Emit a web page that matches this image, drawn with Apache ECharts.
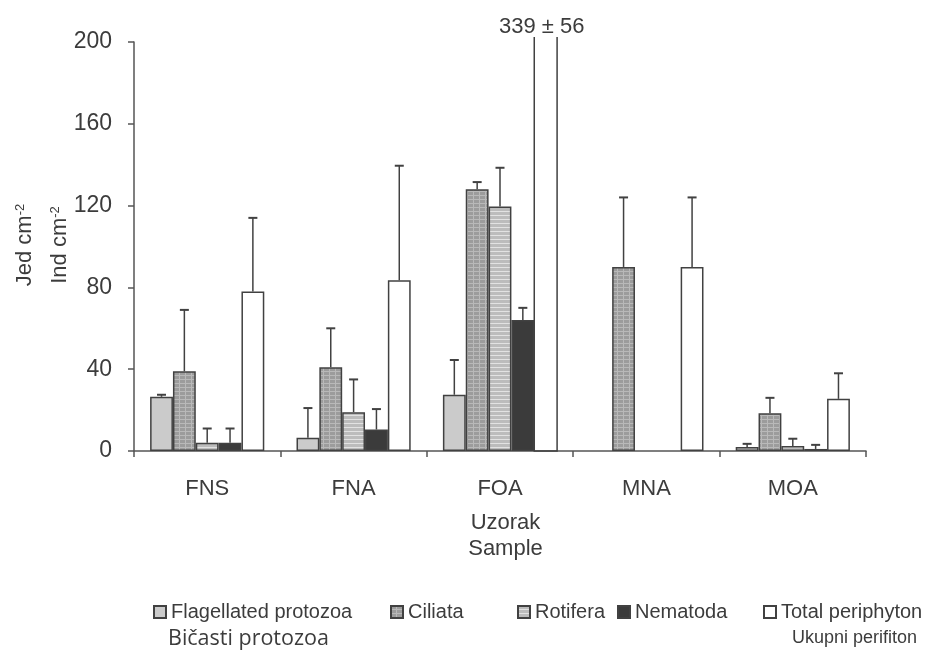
<!DOCTYPE html>
<html>
<head>
<meta charset="utf-8">
<script src="https://cdn.jsdelivr.net/npm/echarts@6/dist/echarts.min.js"></script>
<style>
html, body { margin: 0; padding: 0; background: #fff; }
#main { width: 925px; height: 651px; }
</style>
</head>
<body>
<div id="main"></div>
<script>
// samples (x axis)
var samples = ['FNS', 'FNA', 'FOA', 'MNA', 'MOA'];
var seriesNames = ['Flagellated protozoa', 'Ciliata', 'Rotifera', 'Nematoda', 'Total periphyton'];
var yTicks = [0, 40, 80, 120, 160, 200];

// mean values, Jed cm-2 (null = not found)
var flagellata = [26.5, 6.5, 27.5, null, 2];
var ciliata = [39, 41, 128, 90, 18.5];
var rotifera = [4, 19, 119.5, null, 2.5];
var nematoda = [4, 10.5, 64, null, 1];
var total = [78, 83.5, 339, 90, 25.5];

// standard deviations (upper error bars)
var flagellataErr = [1, 14.5, 17, null, 1.5];
var ciliataErr = [30, 19, 3.5, 34, 7.5];
var rotiferaErr = [7, 16, 19, null, 3.5];
var nematodaErr = [7, 10, 6, null, 2];
var totalErr = [36, 56, 56, 34, 12.5];

var yMax = yTicks[yTicks.length - 1];
var gap = 0.22;
var edge = '#414141';
var textColor = '#3c3c3c';
var sans = '"Liberation Sans", Arial, sans-serif';

// hatch patterns
function makePattern(base, line, vertical) {
    var c = document.createElement('canvas');
    c.width = 6;
    c.height = 4;
    var ctx = c.getContext('2d');
    ctx.fillStyle = base;
    ctx.fillRect(0, 0, 6, 4);
    ctx.fillStyle = line;
    ctx.fillRect(0, 3, 6, 1);
    if (vertical) {
        ctx.fillRect(5, 0, 1, 4);
    }
    return { image: c, repeat: 'repeat' };
}

var fills = [
    '#cbcbcb',
    makePattern('#9c9c9c', '#b9b9b9', true),
    makePattern('#bcbcbc', '#e2e2e2', false),
    '#3b3b3b',
    '#ffffff'
];

var means = [flagellata, ciliata, rotifera, nematoda, total];
var errs = [flagellataErr, ciliataErr, rotiferaErr, nematodaErr, totalErr];

var barSeries = means.map(function(vals, si) {
    return {
        name: seriesNames[si],
        type: 'bar',
        barGap: '0%',
        barCategoryGap: (gap * 100) + '%',
        itemStyle: { color: fills[si], borderColor: edge, borderWidth: 1.5 },
        emphasis: { disabled: true },
        data: vals.map(function(v) {
            if (v === null) return '-';
            // bars taller than the axis are drawn open-topped by the custom series
            if (v > yMax) {
                return { value: v, itemStyle: { color: 'transparent', borderColor: 'transparent' } };
            }
            return v;
        })
    };
});

var errData = [];
means.forEach(function(vals, si) {
    vals.forEach(function(v, ci) {
        if (v !== null) errData.push([ci, v, errs[si][ci], si]);
    });
});

function renderErr(params, api) {
    var ci = api.value(0), val = api.value(1), err = api.value(2), si = api.value(3);
    var band = api.size([1, 0])[0];
    var groupW = band * (1 - gap);
    var bw = groupW / 5;
    var base = api.coord([ci, 0]);
    var x = base[0] - groupW / 2 + bw * (si + 0.5);
    var topY = api.coord([ci, yMax])[1];
    if (val > yMax) {
        var x0 = x - bw / 2, x1 = x + bw / 2;
        return {
            type: 'group',
            children: [{
                type: 'polyline',
                shape: { points: [[x0, topY - 5], [x0, base[1]], [x1, base[1]], [x1, topY - 5]] },
                style: { stroke: edge, lineWidth: 1.5, fill: null }
            }, {
                type: 'text',
                style: {
                    text: val + ' \u00b1 ' + err,
                    x: x - 4, y: topY - 4,
                    align: 'center', verticalAlign: 'bottom',
                    fill: textColor, font: '22px ' + sans
                }
            }]
        };
    }
    if (!err) return;
    var y0 = api.coord([ci, val])[1];
    var y1 = api.coord([ci, val + err])[1];
    return {
        type: 'group',
        children: [{
            type: 'line',
            shape: { x1: x, y1: y0, x2: x, y2: y1 },
            style: { stroke: edge, lineWidth: 1.5 }
        }, {
            type: 'line',
            shape: { x1: x - 4.5, y1: y1, x2: x + 4.5, y2: y1 },
            style: { stroke: edge, lineWidth: 2 }
        }]
    };
}

var legendX = [148, 385, 512, 612, 758];
var legends = seriesNames.map(function(n, i) {
    return {
        data: [{ name: n, icon: 'rect' }],
        left: legendX[i],
        top: 597,
        itemWidth: 12,
        itemHeight: 12,
        selectedMode: false,
        textStyle: { color: textColor, fontSize: 20, fontFamily: sans }
    };
});

var option = {
    animation: false,
    backgroundColor: '#fff',
    textStyle: { fontFamily: sans },
    grid: { left: 134, right: 59, top: 42, bottom: 200 },
    legend: legends,
    xAxis: {
        type: 'category',
        data: samples,
        boundaryGap: true,
        axisLine: { lineStyle: { color: '#555', width: 1.5 } },
        axisTick: { show: true, length: 6, lineStyle: { color: '#555', width: 1.5 } },
        axisLabel: { color: textColor, fontSize: 22, margin: 27 },
        name: 'Uzorak\nSample',
        nameLocation: 'middle',
        nameGap: 59,
        nameTextStyle: { color: textColor, fontSize: 22, lineHeight: 26, padding: [0, 0, 0, 11] }
    },
    yAxis: {
        type: 'value',
        min: 0,
        max: yMax,
        interval: 40,
        axisLine: { show: true, lineStyle: { color: '#555', width: 1.5 } },
        axisTick: { show: true, length: 6, lineStyle: { color: '#555', width: 1.5 } },
        axisLabel: { color: textColor, fontSize: 23, margin: 22 },
        splitLine: { show: false }
    },
    graphic: [{
        type: 'text', x: 25, y: 245, rotation: Math.PI / 2,
        style: {
            text: 'Jed cm{sup|-2}', align: 'center', verticalAlign: 'middle',
            fill: textColor, font: '22px ' + sans,
            rich: { sup: { fontSize: 13, verticalAlign: 'top', fill: textColor } }
        }
    }, {
        type: 'text', x: 60, y: 245, rotation: Math.PI / 2,
        style: {
            text: 'Ind cm{sup|-2}', align: 'center', verticalAlign: 'middle',
            fill: textColor, font: '22px ' + sans,
            rich: { sup: { fontSize: 13, verticalAlign: 'top', fill: textColor } }
        }
    }, {
        type: 'text', left: 168, top: 628,
        style: { text: 'Bičasti protozoa', fill: textColor, font: '21.5px "Open Sans", sans-serif' }
    }, {
        type: 'text', right: 8, top: 629,
        style: { text: 'Ukupni perifiton', fill: textColor, font: '18px ' + sans }
    }],
    series: barSeries.concat([{
        type: 'custom',
        name: 'err',
        renderItem: renderErr,
        clip: false,
        z: 3,
        data: errData
    }])
};

var myChart = echarts.init(document.getElementById('main'));
myChart.setOption(option);
</script>
</body>
</html>
